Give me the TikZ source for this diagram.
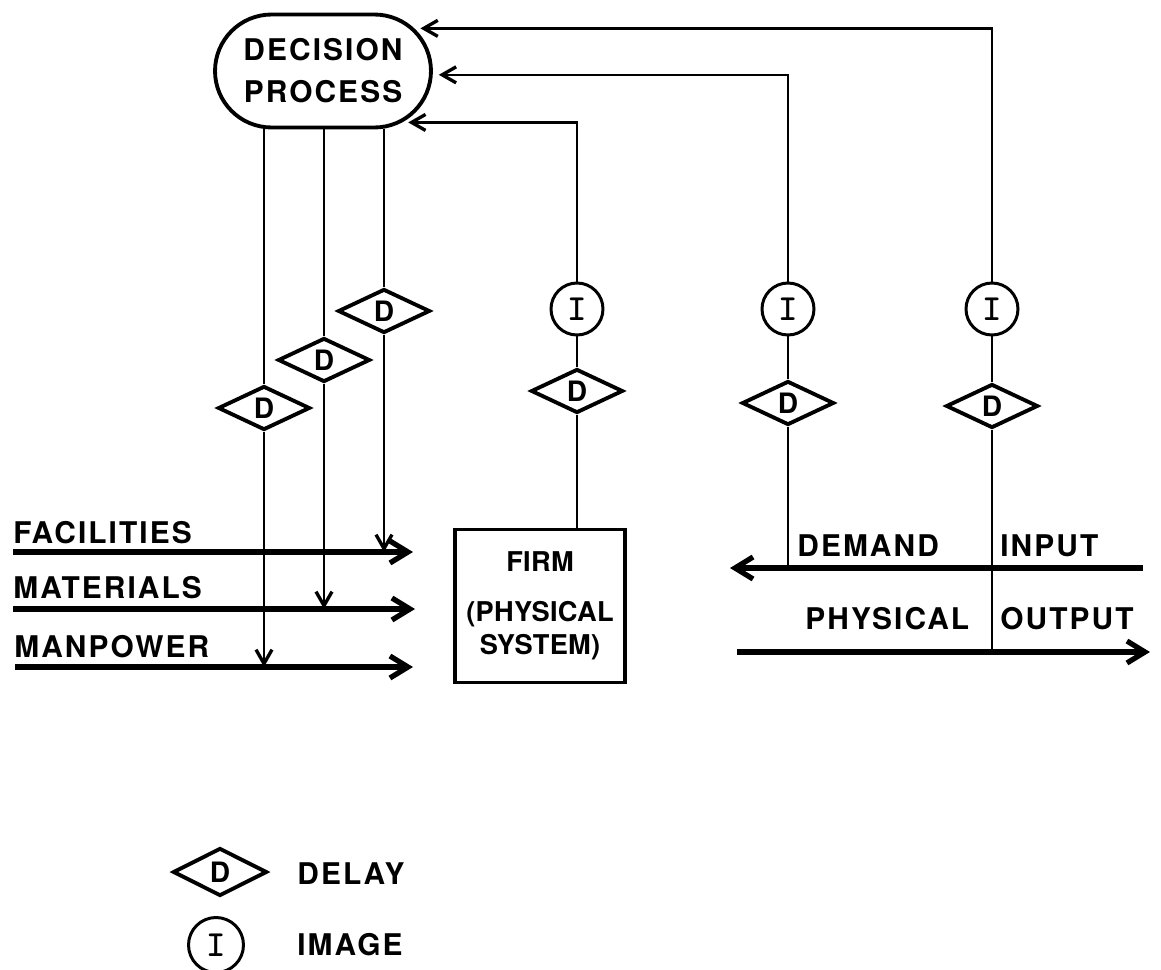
\documentclass[tikz,border=0pt]{standalone}
\usepackage{fontspec}
\usepackage{tikz}
\usetikzlibrary{arrows.meta,shapes.geometric,shapes.misc}
\newfontfamily\lettering[LetterSpace=7]{TeX Gyre Heros}
\newfontfamily\boxlettering[LetterSpace=1]{TeX Gyre Heros}

\tikzset{
	lab/.style={font=\lettering\bfseries\fontsize{17}{20}\selectfont, inner sep=0pt},
	delay/.style={draw, diamond, line width=2.2pt, minimum width=1.84cm, minimum height=0.88cm, inner sep=0pt, font=\lettering\bfseries\fontsize{16}{18}\selectfont},
	image/.style={draw, circle, line width=1.7pt, minimum size=1.04cm, inner sep=0pt, font=\ttfamily\bfseries\fontsize{21}{22}\selectfont},
	info/.style={line width=1.4pt},
	infoarrow/.style={line width=1.4pt, -{Straight Barb[length=2.8mm,width=3.2mm,line width=1.9pt]}},
	flow/.style={line width=3pt, -{Straight Barb[length=3.6mm,width=4.4mm]}},
}

\begin{document}
\begin{tikzpicture}[x=0.02cm,y=-0.02cm]
\useasboundingbox (0,0) rectangle (1161,970);

\node[draw, rounded rectangle, line width=2.2pt, minimum width=4.32cm, minimum height=2.26cm, lab, align=center] (dp) at (323,71) {DECISION\\[3.8pt]PROCESS};

% decisions going out
\node[delay] (dC) at (384,311) {D};
\node[delay] (dB) at (324,360) {D};
\node[delay] (dA) at (264,408) {D};

\coordinate (facL) at (13,552); \coordinate (facR) at (413,552);
\coordinate (matL) at (13,609); \coordinate (matR) at (415,609);
\coordinate (manL) at (15,667); \coordinate (manR) at (413,667);
\draw[flow] (facL) -- (facR);
\draw[flow] (matL) -- (matR);
\draw[flow] (manL) -- (manR);
	\node[lab, anchor=base west] (facT) at (13,543) {FACILITIES};
	\node[lab, anchor=base west] (matT) at (13,598) {MATERIALS};
	\node[lab, anchor=base west] (manT) at (14,657) {MANPOWER};

\draw[info] (dp.south -| dC) -- (dC);
\draw[info] (dp.south -| dB) -- (dB);
\draw[info] (dp.south -| dA) -- (dA);
\draw[infoarrow] (dC) -- (dC |- facR);
\draw[infoarrow] (dB) -- (dB |- matR);
\draw[infoarrow] (dA) -- (dA |- manR);

% the firm
\node[draw, line width=2pt, minimum width=3.4cm, minimum height=3.06cm, lab, font=\boxlettering\bfseries\fontsize{15.5}{18.7}\selectfont, align=center] (firm) at (540,606) {FIRM\\[10pt](PHYSICAL\\SYSTEM)};

% information coming back
\node[delay] (dF) at (577,391) {D};
\node[image] (iF) at (577,309) {I};
\draw[info] (dF |- firm.north) -- (dF);
\draw[info] (dF) -- (iF);
\draw[infoarrow, shorten >=0.12cm] (iF) |- (dp.-33);

\node[delay] (dD) at (788,403) {D};
\node[image] (iD) at (788,309) {I};
\coordinate (demR) at (1143,568); \coordinate (demL) at (730,568);
\draw[flow] (demR) -- (demL);
\draw[info] (dD |- demR) -- (dD);
\draw[info] (dD) -- (iD);
\draw[infoarrow, shorten >=0.12cm] (iD) |- (dp.-2);
	\node[lab, anchor=base west] (demT) at (797,556) {DEMAND};
	\node[lab, anchor=base west] (inT) at (1000,556) {INPUT};

\node[delay] (dO) at (992,406) {D};
\node[image] (iO) at (992,309) {I};
\coordinate (outL) at (737,652); \coordinate (outR) at (1150,652);
\draw[flow] (outL) -- (outR);
\draw[info] (dO |- outL) -- (dO);
\draw[info] (dO) -- (iO);
\draw[infoarrow, shorten >=0.12cm] (iO) |- (dp.25);
	\node[lab, anchor=base west] (phT) at (805,629) {PHYSICAL};
	\node[lab, anchor=base west] (outT) at (1000,629) {OUTPUT};

% key
\node[delay, minimum width=1.88cm, minimum height=0.96cm] (keyD) at (220,872) {D};
	\node[lab, anchor=base west] (keyDT) at (297,884) {DELAY};
\node[image, minimum size=1.1cm] (keyI) at (216,945) {I};
	\node[lab, anchor=base west] (keyIT) at (297,955) {IMAGE};
\end{tikzpicture}
\end{document}
